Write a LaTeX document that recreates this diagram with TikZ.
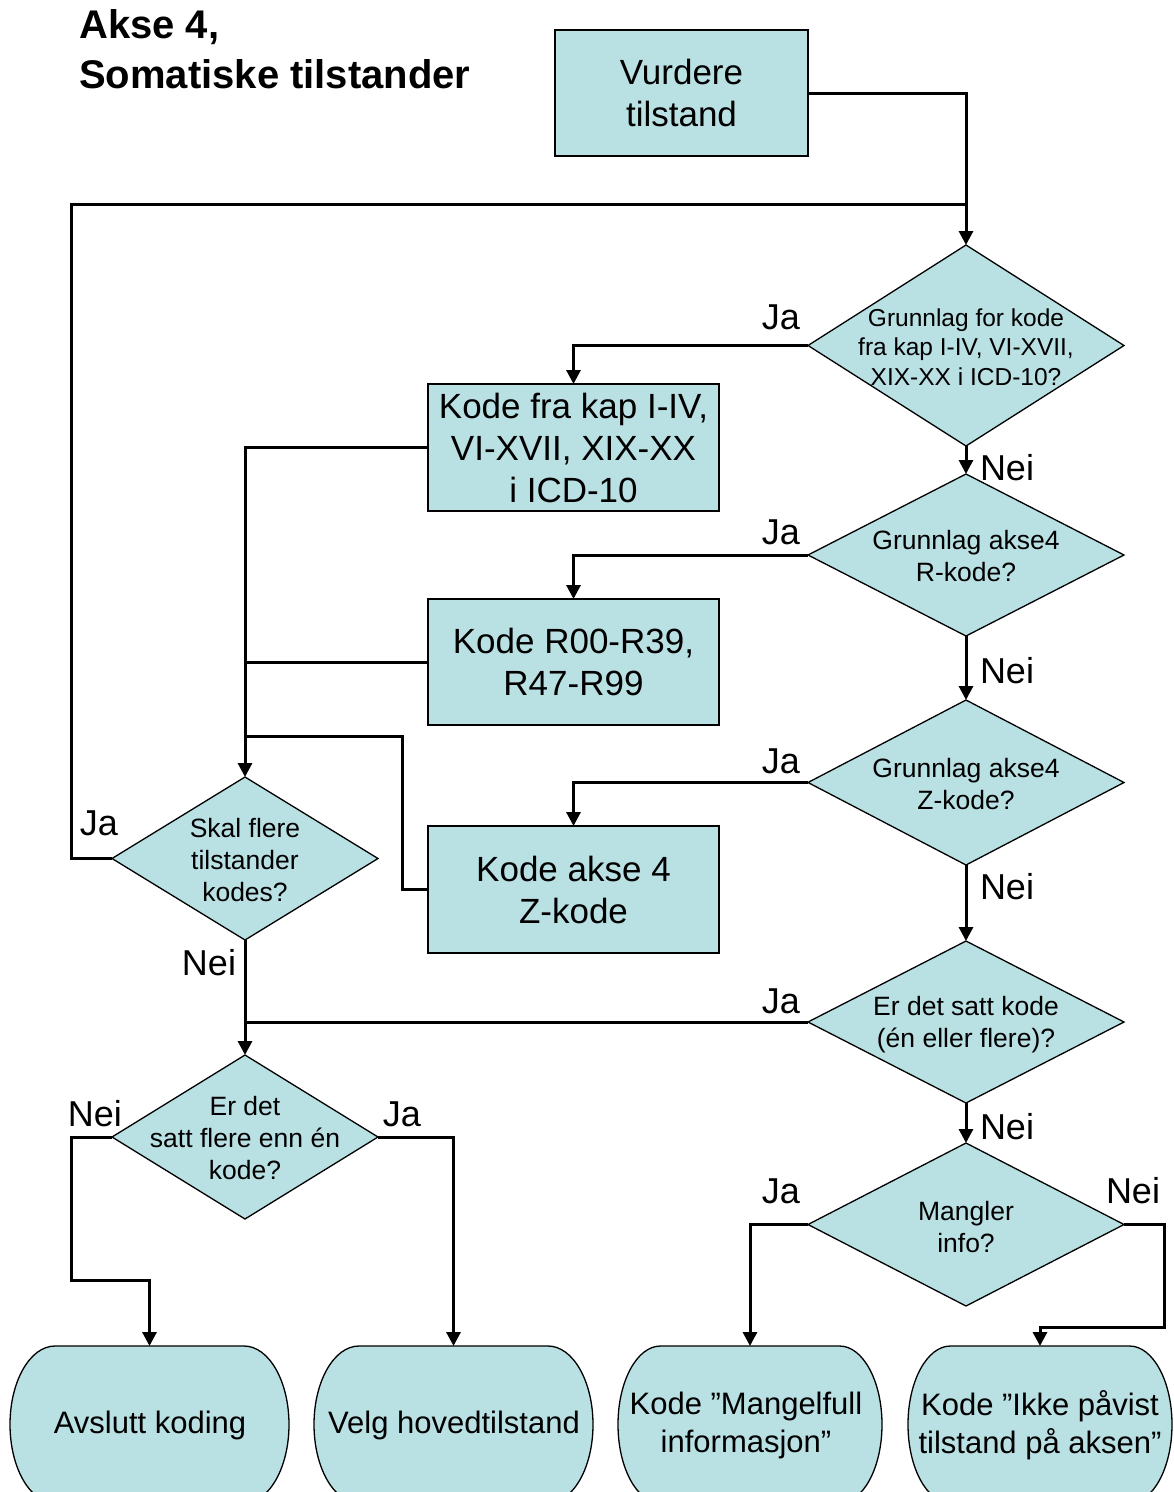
\documentclass[tikz,border=0pt]{standalone}
\usepackage{fontspec}
\setmainfont{Liberation Sans}
\usetikzlibrary{shapes.geometric,arrows.meta}
\definecolor{boxfill}{RGB}{185,224,227}
\newcommand\termpath[2]{%
  \path[termfill] ([xshift=#2]#1.north west) -- ([xshift=-#2]#1.north east)
    arc[start angle=90,end angle=-90,x radius=#2,y radius=78.5pt]
    -- ([xshift=#2]#1.south west)
    arc[start angle=270,end angle=90,x radius=#2,y radius=78.5pt] -- cycle;}
\begin{document}
\begin{tikzpicture}[x=1pt,y=1pt,
  shapebox/.style={draw=black, line width=1.3pt, fill=boxfill, inner sep=0pt, outer sep=0pt},
  rectbox/.style={shapebox, rectangle, align=center, font=\fontsize{35}{42}\selectfont},
  dia/.style={shapebox, diamond},
  dtxt/.style={align=center, font=\fontsize{26.5}{32}\selectfont, inner sep=0pt},
  ttxt/.style={align=center, font=\fontsize{31}{38}\selectfont, inner sep=0pt},
  lbl/.style={font=\fontsize{36}{40}\selectfont, inner sep=0pt},
  titletxt/.style={font=\fontsize{40}{48}\selectfont\bfseries, inner sep=0pt, anchor=base west},
  line/.style={line width=3pt},
  conn/.style={line, -{Triangle[length=14pt,width=14pt]}},
  tholder/.style={rectangle, inner sep=0pt, outer sep=0pt, minimum width=#1, minimum height=157pt},
  termfill/.style={draw=black, line width=1.3pt, fill=boxfill}
]
\useasboundingbox (0,0) rectangle (1174,-1492);
\clip (0,0) rectangle (1174,-1492);

% title
\node[titletxt] (ti1) at (79,-38) {Akse 4,};
\node[titletxt] (ti2) at (79,-88) {Somatiske tilstander};

% rectangles
\node[rectbox, minimum width=253pt, minimum height=126pt] (v) at (681.5,-93) {Vurdere\\tilstand};
\node[rectbox, minimum width=291pt, minimum height=127pt] (b1) at (573.5,-447.5) {Kode fra kap I-IV,\\VI-XVII, XIX-XX\\i ICD-10};
\node[rectbox, minimum width=291pt, minimum height=126pt] (b2) at (573.5,-662) {Kode R00-R39,\\R47-R99};
\node[rectbox, minimum width=291pt, minimum height=127pt] (b3) at (573.5,-889.5) {Kode akse 4\\Z-kode};

% diamonds
\node[dia, minimum width=316pt, minimum height=201pt] (d1) at (966,-345.5) {};
\node[dtxt, font=\fontsize{24.5}{29.5}\selectfont] (d1t) at (966,-347) {Grunnlag for kode\\fra kap I-IV, VI-XVII,\\XIX-XX i ICD-10?};
\node[dia, minimum width=316pt, minimum height=162pt] (d2) at (966,-555) {};
\node[dtxt] (d2t) at (966,-556) {Grunnlag akse4\\R-kode?};
\node[dia, minimum width=316pt, minimum height=165pt] (d3) at (966,-782.5) {};
\node[dtxt] (d3t) at (966,-784) {Grunnlag akse4\\Z-kode?};
\node[dia, minimum width=316pt, minimum height=162pt] (d4) at (966,-1022) {};
\node[dtxt] (d4t) at (966,-1025) {Er det satt kode\\(én eller flere)?};
\node[dia, minimum width=316pt, minimum height=163pt] (d5) at (966,-1224.5) {};
\node[dtxt] (d5t) at (966,-1227) {Mangler\\info?};
\node[dia, minimum width=266pt, minimum height=163pt] (sk) at (245,-858.5) {};
\node[dtxt] (skt) at (245,-860) {Skal flere\\tilstander\\kodes?};
\node[dia, minimum width=266pt, minimum height=164pt] (e) at (245,-1137) {};
\node[dtxt] (et) at (245,-1138) {Er det\\satt flere enn én\\kode?};

% terminals
\node[tholder=279pt] (t1) at (149.5,-1424.5) {};
\termpath{t1}{45pt}
\node[ttxt] (t1x) at (150,-1425) {Avslutt koding};
\node[tholder=279pt] (t2) at (453.5,-1424.5) {};
\termpath{t2}{45pt}
\node[ttxt] (t2x) at (454,-1425) {Velg hovedtilstand};
\node[tholder=264pt] (t3) at (750,-1424.5) {};
\termpath{t3}{42.5pt}
\node[ttxt] (t3x) at (746,-1425) {Kode ”Mangelfull\\informasjon”};
\node[tholder=264pt] (t4) at (1040,-1424.5) {};
\termpath{t4}{42.5pt}
\node[ttxt] (t4x) at (1040,-1425) {Kode ”Ikke påvist\\tilstand på aksen”};

% junctions
\coordinate (j1) at (966,-204);
\coordinate (j2) at (245,-1022);
\coordinate (j3) at (245,-662);
\coordinate (j4) at (245,-736);

% connectors
\draw[conn] (v.east) -| (d1.north);
\draw[line] (sk.west) -- ++(-41,0) |- (j1);
\draw[conn] (d1.west) -| (b1.north);
\draw[conn] (d1.south) -- (d2.north);
\draw[conn] (d2.west) -| (b2.north);
\draw[conn] (d2.south) -- (d3.north);
\draw[conn] (d3.west) -| (b3.north);
\draw[conn] (d3.south) -- (d4.north);
\draw[line] (d4.west) -- (j2);
\draw[conn] (d4.south) -- (d5.north);
\draw[conn] (b1.west) -| (sk.north);
\draw[line] (b2.west) -- (j3);
\draw[line] (b3.west) -- ++(-26,0) |- (j4);
\draw[conn] (sk.south) -- (e.north);
\draw[conn] (e.west) -- ++(-41,0) -- ++(0,-143) -| (t1.north);
\draw[conn] (e.east) -| (t2.north);
\draw[conn] (d5.west) -| (t3.north);
\draw[conn] (d5.east) -- ++(40,0) -- ++(0,-102.5) -| (t4.north);

% labels
\node[lbl] (l1) at (781,-317) {Ja};
\node[lbl] (l2) at (1007,-468) {Nei};
\node[lbl] (l3) at (781,-532) {Ja};
\node[lbl] (l4) at (1007,-671) {Nei};
\node[lbl] (l5) at (781,-761) {Ja};
\node[lbl] (l6) at (1007,-887) {Nei};
\node[lbl] (l7) at (781,-1001) {Ja};
\node[lbl] (l8) at (1007,-1127) {Nei};
\node[lbl] (l9) at (781,-1191) {Ja};
\node[lbl] (l10) at (1133,-1191) {Nei};
\node[lbl] (l11) at (99,-823) {Ja};
\node[lbl] (l12) at (209,-963) {Nei};
\node[lbl] (l13) at (95,-1114) {Nei};
\node[lbl] (l14) at (402,-1114) {Ja};
\end{tikzpicture}
\end{document}
